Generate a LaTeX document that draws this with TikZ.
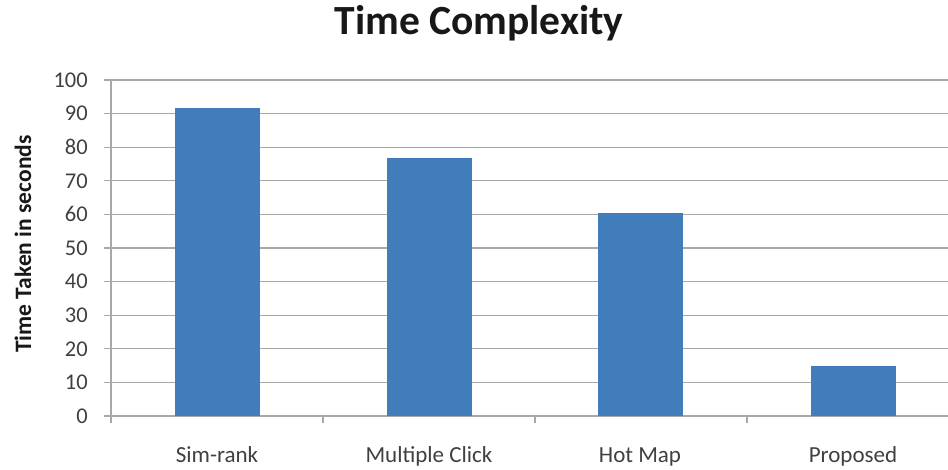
\documentclass[tikz,border=0pt]{standalone}
\usepackage{fontspec}
\setmainfont{Carlito}
\usetikzlibrary{positioning}

\definecolor{barblue}{RGB}{64,125,186}
\definecolor{gridgray}{RGB}{168,168,168}
\definecolor{labelgray}{RGB}{64,64,64}
\definecolor{titleblack}{RGB}{24,24,24}

\begin{document}
\begin{tikzpicture}
	[x=1pt,y=-1pt,
	 bar/.style={fill=barblue,draw=none,inner sep=0pt,minimum width=85pt,anchor=south},
	 gridline/.style={draw=gridgray,line width=1.1pt},
	 ticklabel/.style={text=labelgray,font=\fontsize{22.5}{22.5}\selectfont,anchor=east,inner sep=0pt},
	 catlabel/.style={text=labelgray,font=\fontsize{23}{23}\selectfont,anchor=base,inner sep=0pt}]
	\useasboundingbox (0,0) rectangle (948,470);
	
	\node[text=titleblack,font=\bfseries\fontsize{41.5}{41.5}\selectfont,anchor=base] (title) at (479,35) {Time Complexity};
	
	% grid and y labels
	\foreach \v in {0,10,...,100}
	{
		\draw[gridline] (104,416-3.36*\v) -- (948,416-3.36*\v);
		\node[ticklabel] (y\v) at (88,416-3.36*\v) {\v};
	}
	\draw[gridline] (111,80) -- (111,423);
	\foreach \x in {323,535,747}
	\draw[gridline] (\x,416) -- (\x,423);
	
	\node[text=titleblack,font=\bfseries\fontsize{23.5}{23.5}\selectfont,rotate=90,anchor=base] (ylab) at (31,244) {Time Taken in seconds};
	
	% bars
	\foreach \name/\c/\v/\lab in {simrank/217/91.6/Sim-rank,multi/429/76.7/Multiple Click,hotmap/640/60.5/Hot Map,proposed/853/14.7/Proposed}
	{
		\node[bar,minimum height=3.36*\v pt] (b\name) at (\c,416) {};
		\node[catlabel] (l\name) at (\c,462) {\lab};
	}
	
\end{tikzpicture}
\end{document}
